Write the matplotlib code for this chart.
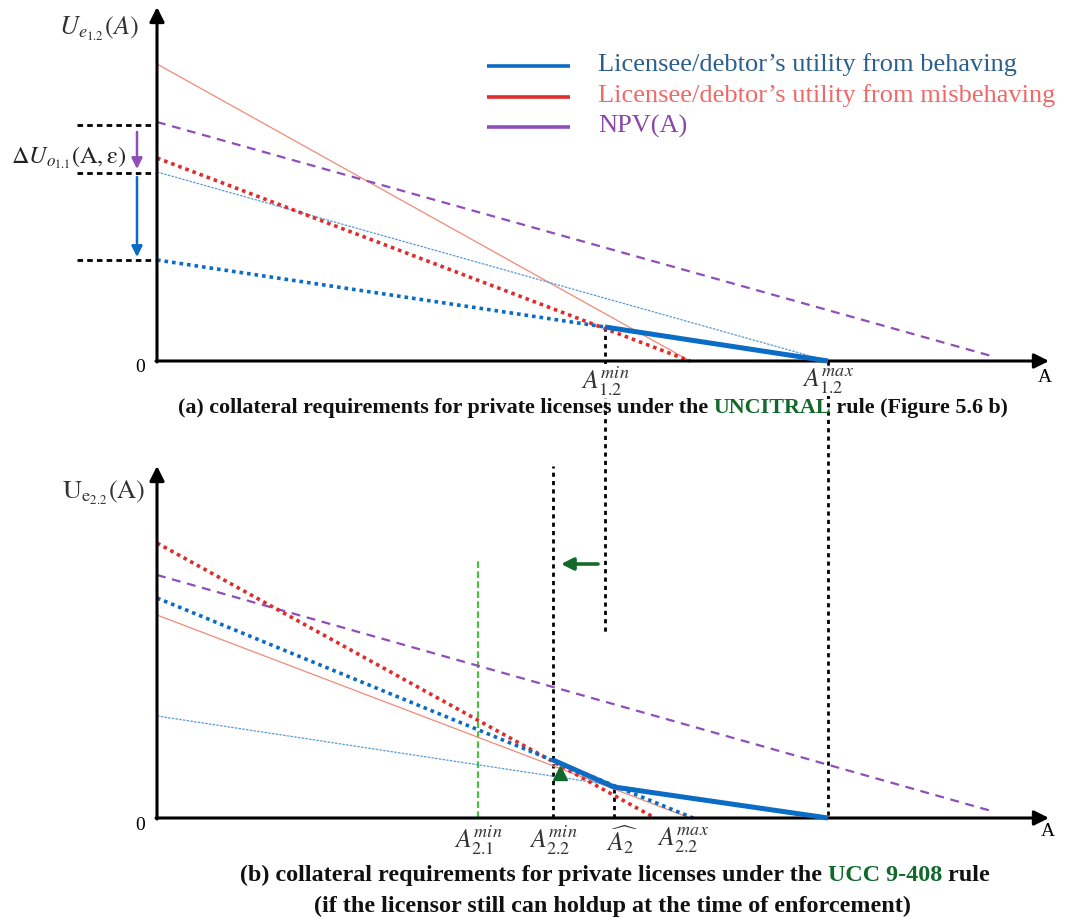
import matplotlib.pyplot as plt

plt.rcParams['mathtext.fontset'] = 'stix'
plt.rcParams['font.family'] = ['Liberation Serif', 'DejaVu Serif']

W, H = 1092, 923

# ---- panel (a) data: (A, U) endpoints, origin at the axes corner ----
a_red_thin = ([0, 533], [297, 0])
a_red_dot = ([0, 533], [203, 0])
a_blue_thin = ([0, 671], [189, 0])
a_blue_dot = ([0, 448], [101, 34])
a_blue_solid = ([448, 671], [34, 0])
a_npv = ([0, 838], [239, 4])
a_levels = [236, 188, 101]
a_ticks = [448, 671]
a_ticklabels = [r'$A_{1.2}^{min}$', r'$A_{1.2}^{max}$']

# ---- panel (b) data ----
b_red_dot = ([0, 498], [275, 0])
b_npv = ([0, 838], [243, 6])
b_blue_dot = ([0, 536], [220, 0])
b_red_thin = ([0, 533], [203, 0])
b_blue_thin = ([0, 671], [102, 0])
b_blue_solid = ([396, 457, 671], [58, 31, 0])
b_green_x = 321
b_ticks = [321, 396, 465, 526]
b_ticklabels = [r'$A_{2.1}^{min}$', r'$A_{2.2}^{min}$', r'$\widehat{A_2}$', r'$A_{2.2}^{max}$']

legend_labels = ["Licensee/debtor\u2019s utility from behaving",
                 "Licensee/debtor\u2019s utility from misbehaving",
                 "NPV(A)"]

BLUE = '#0a6cc4'
BLUE_L = '#5b9bd5'
RED = '#e02c2c'
RED_L = '#f08a7a'
PURPLE = '#8e4fb8'
GREEN = '#11692b'
GREEN_L = '#4cc040'

DOT = (0, (1, 1.1))
DASH = (0, (4, 3))
VDOT = (0, (1.5, 1.5))

fig = plt.figure(figsize=(W / 100, H / 100), dpi=100)
ax1 = fig.add_axes([0, 1 - 440 / H, 1, 440 / H])
ax2 = fig.add_axes([0, 0, 1, 483 / H])
ax1.set_xlim(-157, 935)
ax1.set_ylim(-79, 361)
ax2.set_xlim(-157, 935)
ax2.set_ylim(-105, 378)
for ax in (ax1, ax2):
    ax.axis('off')


def axes_arrows(ax, top):
    ax.annotate('', xy=(0, top), xytext=(0, -1), annotation_clip=False,
                arrowprops=dict(arrowstyle='-|>', lw=2.2, color='k', mutation_scale=22, shrinkA=0, shrinkB=0))
    ax.annotate('', xy=(892, 0), xytext=(-1, 0), annotation_clip=False,
                arrowprops=dict(arrowstyle='-|>', lw=2.2, color='k', mutation_scale=22, shrinkA=0, shrinkB=0))


# ---------------- panel (a) ----------------
ax1.plot(*a_red_thin, color=RED_L, lw=0.9, zorder=2)
ax1.plot(*a_blue_thin, color=BLUE_L, lw=0.9, ls=(0, (2, 1)), zorder=2)
ax1.plot(*a_npv, color=PURPLE, lw=1.6, ls=DASH, zorder=2)
ax1.plot(*a_red_dot, color=RED, lw=2.6, ls=DOT, zorder=3)
ax1.plot(*a_blue_dot, color=BLUE, lw=2.6, ls=DOT, zorder=3)
ax1.plot(*a_blue_solid, color=BLUE, lw=3.6, zorder=4, solid_capstyle='butt')
axes_arrows(ax1, 354)

for lv in a_levels:
    ax1.plot([-80, -2], [lv, lv], color='k', lw=2, ls=(0, (2, 1.5)), clip_on=False)
ax1.annotate('', xy=(-20, 192), xytext=(-20, 229),
             arrowprops=dict(arrowstyle='-|>', lw=1.8, color=PURPLE, mutation_scale=16, shrinkA=0, shrinkB=0))
ax1.annotate('', xy=(-20, 104), xytext=(-20, 184),
             arrowprops=dict(arrowstyle='-|>', lw=1.8, color=BLUE, mutation_scale=16, shrinkA=0, shrinkB=0))
ax1.text(-88, 203, r'$\Delta U_{o_{1.1}}(\mathrm{A},\mathrm{\varepsilon})$', fontsize=17.5,
         ha='center', va='center', color='#222222')
ax1.text(-58, 332, r'$U_{e_{1.2}}(A)$', fontsize=19, ha='center', va='center', color='#333333')

# verticals down from A_min and A_max into panel (b)
ax1.plot([a_ticks[0], a_ticks[0]], [a_blue_solid[1][0], -271], color='k', lw=2, ls=VDOT, clip_on=False)
ax1.plot([a_ticks[1], a_ticks[1]], [0, -457], color='k', lw=2, ls=VDOT, clip_on=False, zorder=1)

for x, lab in zip(a_ticks, a_ticklabels):
    ax1.text(x, -20, lab, fontsize=18.5, ha='center', va='center', color='#333333',
             bbox=dict(fc='white', ec='none', pad=0.5))
ax1.text(-17, -7, '0', fontsize=14, ha='center', va='center')
ax1.text(888, -17, 'A', fontsize=14, ha='center', va='center')

# legend
leg_colors = [BLUE, RED, PURPLE]
leg_text_colors = ['#2b5f8e', '#f06868', '#8a48a8']
for i, (lab, c, tc) in enumerate(zip(legend_labels, leg_colors, leg_text_colors)):
    u = 295 - 30.5 * i
    ax1.plot([330, 413], [u, u], color=c, lw=2.6, solid_capstyle='butt')
    ax1.text(441, u + 1, lab, fontsize=19, color=tc, ha='left', va='center')

# ---------------- panel (b) ----------------
ax2.plot(*b_red_thin, color=RED_L, lw=0.9, zorder=2)
ax2.plot(*b_blue_thin, color=BLUE_L, lw=0.9, ls=(0, (2, 1)), zorder=2)
ax2.plot(*b_npv, color=PURPLE, lw=1.6, ls=DASH, zorder=2)
ax2.plot(*b_red_dot, color=RED, lw=2.6, ls=DOT, zorder=3)
ax2.plot(*b_blue_dot, color=BLUE, lw=2.6, ls=DOT, zorder=3)
ax2.plot(*b_blue_solid, color=BLUE, lw=3.6, zorder=4, solid_capstyle='butt')
axes_arrows(ax2, 352)

ax2.plot([b_green_x, b_green_x], [0, 258], color=GREEN_L, lw=1.6, ls=(0, (3, 1.5)), zorder=1)
ax2.plot([b_ticks[1], b_ticks[1]], [0, 352], color='k', lw=2, ls=VDOT, zorder=1)
ax2.plot([b_blue_solid[0][1], b_blue_solid[0][1]], [0, b_blue_solid[1][1]], color='k', lw=2,
         ls=VDOT, zorder=1)
ax2.plot([403], [45], marker='^', color=GREEN, ms=10, zorder=5)
ax2.annotate('', xy=(404, 254), xytext=(441, 254),
             arrowprops=dict(arrowstyle='-|>', lw=2.6, color=GREEN, mutation_scale=18, shrinkA=0, shrinkB=0))

ax2.text(-53, 325, r'$\mathrm{U}_{\mathrm{e}_{2.2}}(\mathrm{A})$', fontsize=19, ha='center', va='center',
         color='#333333')
for x, lab in zip(b_ticks, b_ticklabels):
    ax2.text(x, -22, lab, fontsize=18.5, ha='center', va='center', color='#333333')
ax2.text(-17, -7, '0', fontsize=14, ha='center', va='center')
ax2.text(891, -14, 'A', fontsize=14, ha='center', va='center')


# ---------------- captions ----------------
def chain(x, y, pieces, **kw):
    t = fig.text(x / W, 1 - y / H, pieces[0][0], color=pieces[0][1], va='baseline', ha='left', **kw)
    for s, c in pieces[1:]:
        t = plt.annotate(s, xy=(1, 0), xycoords=t, va='bottom', ha='left', color=c,
                         annotation_clip=False, **kw)


chain(178, 413, [('(a) collateral requirements for private licenses under the ', '#111111'),
                 ('UNCITRAL', GREEN), (' rule (Figure 5.6 b)', '#111111')],
      fontsize=15.8, fontweight='bold')
chain(240, 881, [('(b) collateral requirements for private licenses under the ', '#111111'),
                 ('UCC 9-408', GREEN), (' rule', '#111111')],
      fontsize=17.4, fontweight='bold')
fig.text(612 / W, 1 - 906 / H, '(if the licensor still can holdup at the time of enforcement)',
         ha='center', va='center', color='#111111', fontsize=17.4, fontweight='bold')

fig.savefig('out.png', dpi=100)
